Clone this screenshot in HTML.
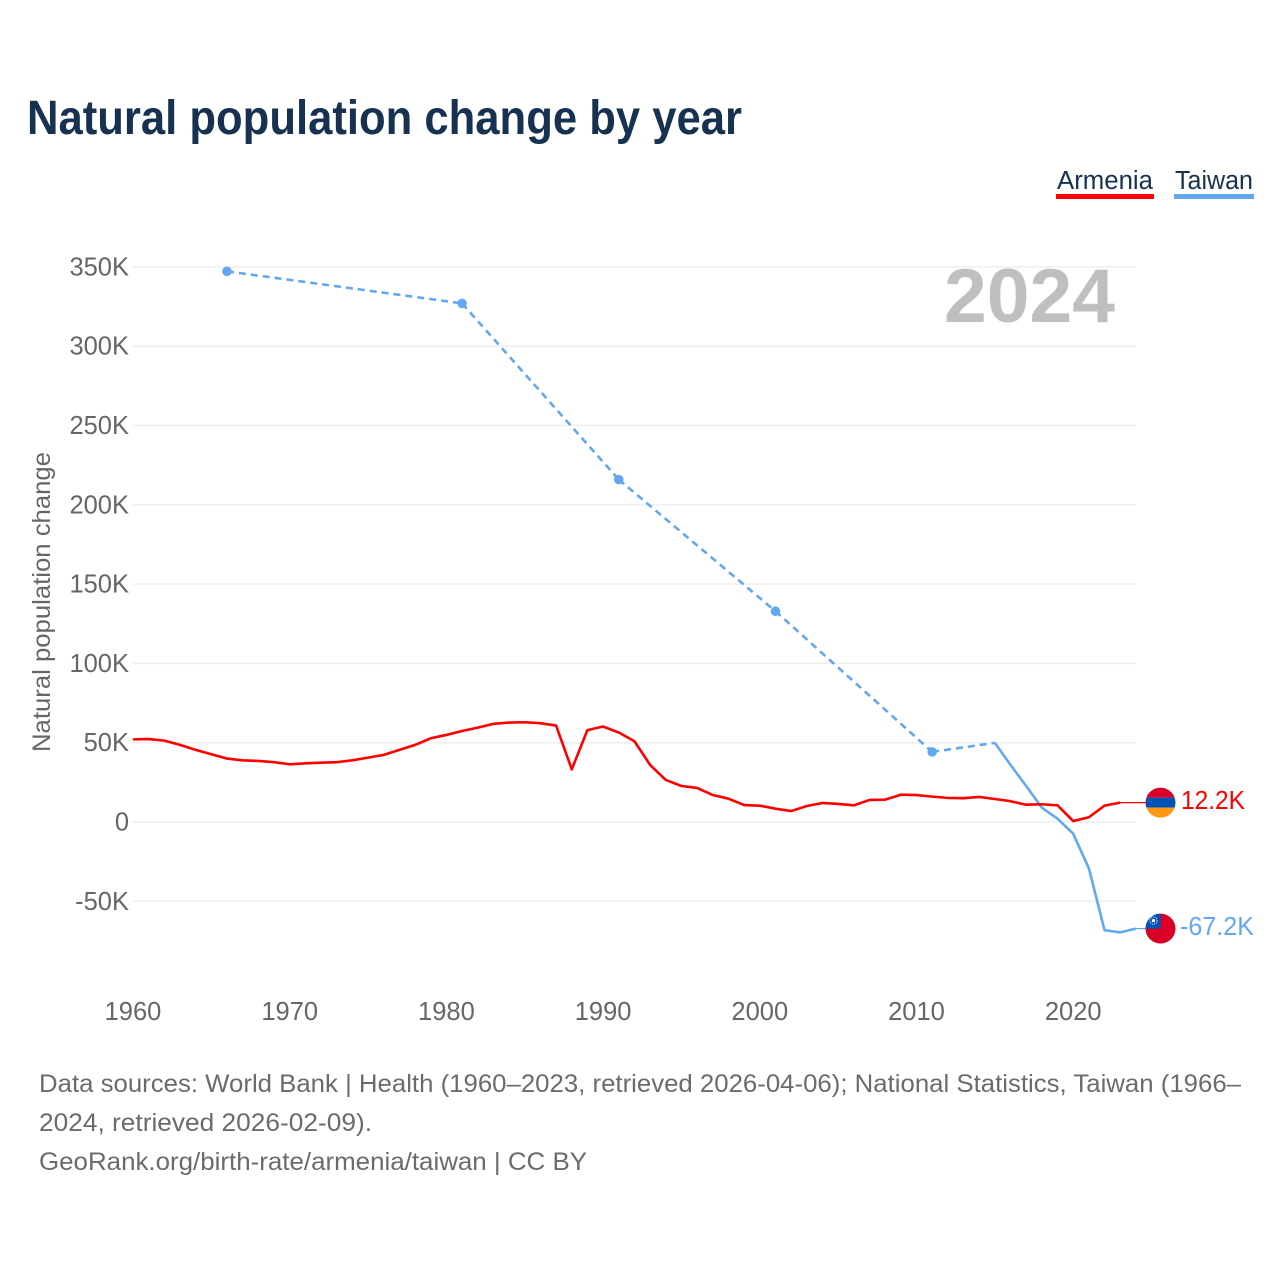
<!DOCTYPE html>
<html lang="en">
<head>
<meta charset="utf-8">
<title>Natural population change by year</title>
<style>
html,body{margin:0;padding:0;background:#fff;}
svg{display:block;font-family:"Liberation Sans",sans-serif;}
</style>
</head>
<body>
<svg id="chart" xmlns="http://www.w3.org/2000/svg" width="1280" height="1280" viewBox="0 0 1280 1280">
  <rect width="1280" height="1280" fill="#ffffff"/>
  <text x="27" y="134" font-size="48" font-weight="700" fill="#173150" textLength="715" lengthAdjust="spacingAndGlyphs">Natural population change by year</text>

  <g>
    <text x="1057" y="189" font-size="25.5" fill="#173150" textLength="96" lengthAdjust="spacingAndGlyphs">Armenia</text>
    <rect x="1056" y="194" width="98" height="5" fill="#ff0000"/>
  </g>
  <g>
    <text x="1175" y="189" font-size="25.5" fill="#173150" textLength="78" lengthAdjust="spacingAndGlyphs">Taiwan</text>
    <rect x="1174" y="194" width="80" height="5" fill="#62a8f0"/>
  </g>

  <text x="944" y="322" font-size="76" font-weight="700" fill="#bfbfbf" textLength="171" lengthAdjust="spacingAndGlyphs">2024</text>
  <text transform="translate(50,752) rotate(-90)" font-size="25" fill="#666666" textLength="300" lengthAdjust="spacingAndGlyphs">Natural population change</text>

  <g id="grid"></g>
  <g id="y-ticks"></g>
  <g id="x-ticks"></g>
  <g id="series"></g>

  <defs>
    <clipPath id="flag-clip"><circle cx="0" cy="0" r="15"/></clipPath>
  </defs>
  <g id="flag-armenia" clip-path="url(#flag-clip)">
    <rect x="-15" y="-15" width="30" height="10" fill="#d80027"/>
    <rect x="-15" y="-5" width="30" height="10" fill="#0052b4"/>
    <rect x="-15" y="5" width="30" height="10" fill="#ff9811"/>
  </g>
  <g id="flag-taiwan" clip-path="url(#flag-clip)">
    <rect x="-15" y="-15" width="30" height="30" fill="#d80027"/>
    <rect x="-15" y="-15" width="15" height="15" fill="#0052b4"/>
    <circle cx="-7" cy="-8" r="3.6" fill="none" stroke="#ffffff" stroke-width="0.9" stroke-dasharray="1 1"/>
    <circle cx="-7" cy="-8" r="1.6" fill="#ffffff"/>
  </g>

  <g font-size="25" fill="#6b6b6b">
    <text x="39" y="1092" textLength="1202" lengthAdjust="spacingAndGlyphs">Data sources: World Bank | Health (1960–2023, retrieved 2026-04-06); National Statistics, Taiwan (1966–</text>
    <text x="39" y="1131" textLength="333" lengthAdjust="spacingAndGlyphs">2024, retrieved 2026-02-09).</text>
    <text x="39" y="1170" textLength="548" lengthAdjust="spacingAndGlyphs">GeoRank.org/birth-rate/armenia/taiwan | CC BY</text>
  </g>
</svg>

<script>
var yTickValues = [350, 300, 250, 200, 150, 100, 50, 0, -50];
var yTickLabels = ["350K", "300K", "250K", "200K", "150K", "100K", "50K", "0", "-50K"];
var xTickYears = [1960, 1970, 1980, 1990, 2000, 2010, 2020];
var xTickLabels = ["1960", "1970", "1980", "1990", "2000", "2010", "2020"];

var armeniaYears = [1960,1961,1962,1963,1964,1965,1966,1967,1968,1969,1970,1971,1972,1973,1974,1975,1976,1977,1978,1979,1980,1981,1982,1983,1984,1985,1986,1987,1988,1989,1990,1991,1992,1993,1994,1995,1996,1997,1998,1999,2000,2001,2002,2003,2004,2005,2006,2007,2008,2009,2010,2011,2012,2013,2014,2015,2016,2017,2018,2019,2020,2021,2022,2023];
var armeniaValues = [52.1,52.3,51.3,48.6,45.5,42.7,40,38.9,38.5,37.7,36.4,37,37.4,37.7,38.9,40.6,42.3,45.5,48.6,52.8,54.9,57.4,59.5,61.9,62.7,62.9,62.3,60.8,33.2,57.9,60.2,56.4,50.9,36,26.5,22.7,21.5,17,14.7,10.7,10.3,8.4,6.9,10.1,12,11.4,10.5,13.9,14.1,17.2,17,16,15.2,15,15.8,14.5,13.1,10.9,11.2,10.5,0.6,3,10.3,12.2];
var taiwanYears = [1966,1981,1991,2001,2011,2015,2016,2017,2018,2019,2020,2021,2022,2023,2024];
var taiwanValues = [347.2,327,215.9,132.9,44.2,49.9,36,22.7,9,2.1,-7.4,-29.2,-68.2,-69.6,-67.2];
var armeniaLabel = "12.2K";
var taiwanLabel = "-67.2K";

var SVG_NS = "http://www.w3.org/2000/svg";
var RED = "#ff0000";
var BLUE = "#62a8f0";
function xScale(year) { return 133 + (year - 1960) * 15.67; }
function yScale(value) { return 822 - value * 1.586; }

function make(tag, parent, attrs) {
  var el = document.createElementNS(SVG_NS, tag);
  for (var k in attrs) { el.setAttribute(k, attrs[k]); }
  parent.appendChild(el);
  return el;
}

var grid = document.getElementById("grid");
var yTicks = document.getElementById("y-ticks");
yTickValues.forEach(function (value, i) {
  var line = make("line", grid, { x1: 133, x2: 1136, y1: yScale(value), y2: yScale(value), stroke: "#eeeeee", "stroke-width": 1.5 });
  
  
  var label = make("text", yTicks, { x: 129, y: yScale(value) + 8.5, "text-anchor": "end", "font-size": 25.5, fill: "#666666" });
  
  
  label.textContent = yTickLabels[i];
});

var xTicks = document.getElementById("x-ticks");
xTickYears.forEach(function (year, i) {
  var label = make("text", xTicks, { x: xScale(year), y: 1020, "text-anchor": "middle", "font-size": 25.5, fill: "#666666" });
  
  
  label.textContent = xTickLabels[i];
});

var seriesGroup = document.getElementById("series");

function pointsFor(years, values) {
  return years.map(function (year, i) {
    return xScale(year).toFixed(2) + "," + yScale(values[i]).toFixed(2);
  }).join(" ");
}

function drawSeries(years, values, color, nameText) {
  var group = make("g", seriesGroup, {});
  
  
  var start = 0;
  for (var i = 1; i <= years.length; i++) {
    if (i === years.length || years[i] - years[i - 1] !== 1) {
      if (i - start > 1) {
        var solid = make("polyline", group, { points: pointsFor(years.slice(start, i), values.slice(start, i)), fill: "none", stroke: color, "stroke-width": 2.6, "stroke-linejoin": "round" });
        
        
      }
      if (i < years.length) {
        var gap = make("line", group, { x1: xScale(years[i - 1]), y1: yScale(values[i - 1]), x2: xScale(years[i]), y2: yScale(values[i]), stroke: color, "stroke-width": 2.6, "stroke-dasharray": "7 5" });
        
        
      }
      var isIsolated = i - start === 1;
      if (isIsolated) {
        var dot = make("circle", group, { cx: xScale(years[start]), cy: yScale(values[start]), r: 4.8, fill: color });
        
        
      }
      start = i;
    }
  }
}

drawSeries(taiwanYears, taiwanValues, BLUE, "taiwan-series");
drawSeries(armeniaYears, armeniaValues, RED, "armenia-series");

function drawEnd(years, values, color, labelText, flagId, labelX, labelLen, nameText) {
  var last = values.length - 1;
  var endY = yScale(values[last]);
  var link = make("line", seriesGroup, { x1: xScale(years[last]), y1: endY, x2: 1146, y2: endY, stroke: color, "stroke-width": 1.2 });
  
  
  document.getElementById(flagId).setAttribute("transform", "translate(1160.5," + endY + ")");
  var label = make("text", seriesGroup, { x: labelX, y: endY + 6.5, "font-size": 25.5, fill: color, textLength: labelLen, lengthAdjust: "spacingAndGlyphs" });
  
  
  label.textContent = labelText;
}

drawEnd(armeniaYears, armeniaValues, RED, armeniaLabel, "flag-armenia", 1181, 64, "armenia");
drawEnd(taiwanYears, taiwanValues, BLUE, taiwanLabel, "flag-taiwan", 1180, 74, "taiwan");
</script>
</body>
</html>
